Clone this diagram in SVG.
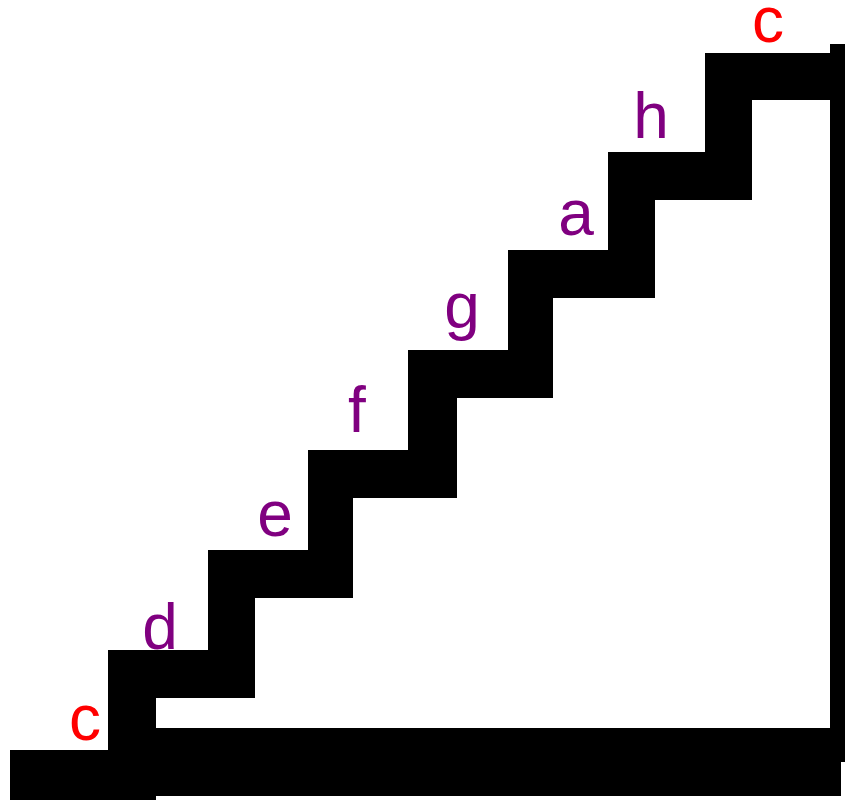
<svg xmlns="http://www.w3.org/2000/svg" width="845" height="800" viewBox="0 0 845 800">
<style>
.lbl{font-family:"Liberation Sans",Arial,sans-serif;font-size:64px;text-anchor:middle}
.red{fill:#ff0000}
.pur{fill:#800080}
</style>
<rect width="845" height="800" fill="#ffffff"/>
<g id="stairs" fill="#000000">
<path d="M10,750 H108 V650 H208 V550 H308 V450 H408 V350 H508 V250 H608 V152 H705 V53 H830 V100 H752 V200 H655 V298 H553 V398 H457 V498 H353 V598 H255 V698 H156 V728 H156 V800 H10 Z"/>
<rect x="156" y="728" width="685" height="68"/>
<rect x="830" y="44" width="15" height="718"/>
</g>
<g id="labels">
<text class="lbl red" x="85" y="740">c</text>
<text class="lbl pur" x="160" y="649">d</text>
<text class="lbl pur" x="275" y="536">e</text>
<text class="lbl pur" x="357" y="432">f</text>
<text class="lbl pur" x="462" y="328">g</text>
<text class="lbl pur" x="576" y="235">a</text>
<text class="lbl pur" x="651" y="138">h</text>
<text class="lbl red" x="768" y="42">c</text>
</g>
</svg>
